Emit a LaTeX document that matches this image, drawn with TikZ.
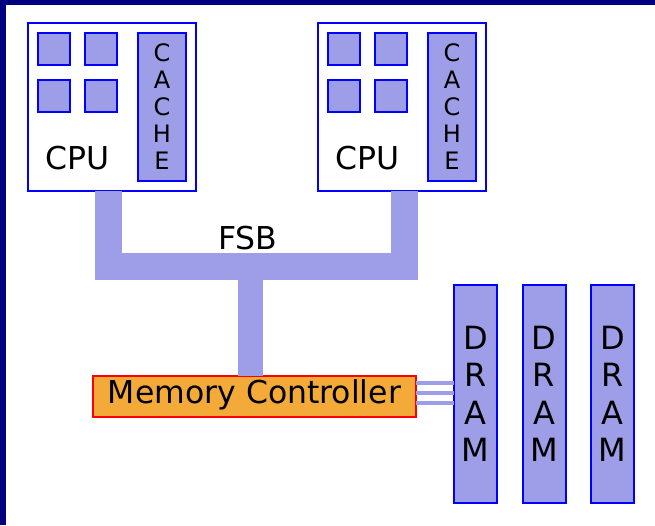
\documentclass[tikz,border=0pt]{standalone}
\usepackage{fontspec}
\setmainfont{DejaVu Sans}
\definecolor{navy}{RGB}{0,0,128}
\definecolor{unitfill}{RGB}{157,157,232}
\definecolor{unitline}{RGB}{0,0,255}
\definecolor{mcfill}{RGB}{243,170,56}
\definecolor{mcline}{RGB}{255,0,0}
\tikzset{
  box/.style={draw=unitline, line width=2pt, inner sep=0pt, outer sep=0pt},
  cpubox/.style={box, fill=white, minimum width=168pt, minimum height=168pt},
  core/.style={box, fill=unitfill, minimum width=32pt, minimum height=32pt},
  cachebox/.style={box, fill=unitfill, minimum width=48pt, minimum height=148pt,
    align=center, font=\fontsize{24}{27}\selectfont},
  dram/.style={box, fill=unitfill, minimum width=43pt, minimum height=218pt,
    align=center, font=\fontsize{32}{37.5}\selectfont},
  mc/.style={draw=mcline, fill=mcfill, line width=2pt, inner sep=0pt, outer sep=0pt,
    minimum width=323pt, minimum height=41pt, text height=23pt, text depth=9pt,
    font=\fontsize{31.5}{36}\selectfont},
  biglabel/.style={inner sep=0pt, font=\fontsize{31.5}{36}\selectfont},
  bus/.style={draw=unitfill, line join=miter, line cap=butt},
  memlink/.style={draw=unitfill, line width=4.5pt}
}
\begin{document}
\begin{tikzpicture}[x=1pt, y=-1pt]
  % page frame
  \useasboundingbox (0,0) rectangle (655,525);
  \fill[white] (0,0) rectangle (655,525);
  \fill[navy] (0,0) rectangle (655,5);
  \fill[navy] (0,0) rectangle (6,525);

  % two processors, each with four cores and a cache
  \foreach \n/\dx in {1/0, 2/290} {
    \node[cpubox] (cpu\n) at (112+\dx,107) {};
    \node[core] (core\n a) at (54+\dx,49) {};
    \node[core] (core\n b) at (101+\dx,49) {};
    \node[core] (core\n c) at (54+\dx,96) {};
    \node[core] (core\n d) at (101+\dx,96) {};
    \node[cachebox] (cache\n) at (162+\dx,107) {C\\A\\C\\H\\E};
    \node[biglabel] (cpulabel\n) at (78+\dx,158) {CPU};
  }

  % memory controller and memory modules
  \node[mc] (mc) at (254.5,396.5) {Memory Controller};
  \node[dram] (dram1) at (475.5,394) {D\\R\\A\\M};
  \node[dram] (dram2) at (544,394) {D\\R\\A\\M};
  \node[dram] (dram3) at (612.5,394) {D\\R\\A\\M};

  % front side bus
  \coordinate (busL) at (108.5,266.5);
  \coordinate (busR) at (404,266.5);
  \coordinate (busM) at (250.5,279);
  \draw[bus, line width=27pt] (cpu1.south -| busL) -- (busL) -- (busR) -- (cpu2.south -| busR);
  \draw[bus, line width=25pt] (busM) -- (mc.north -| busM);
  \node[biglabel] (fsb) at (248,238) {FSB};

  % memory channel
  \foreach \y in {383,393,403}
    \draw[memlink] (mc.east |- 0,\y) -- (dram1.west |- 0,\y);
\end{tikzpicture}
\end{document}
